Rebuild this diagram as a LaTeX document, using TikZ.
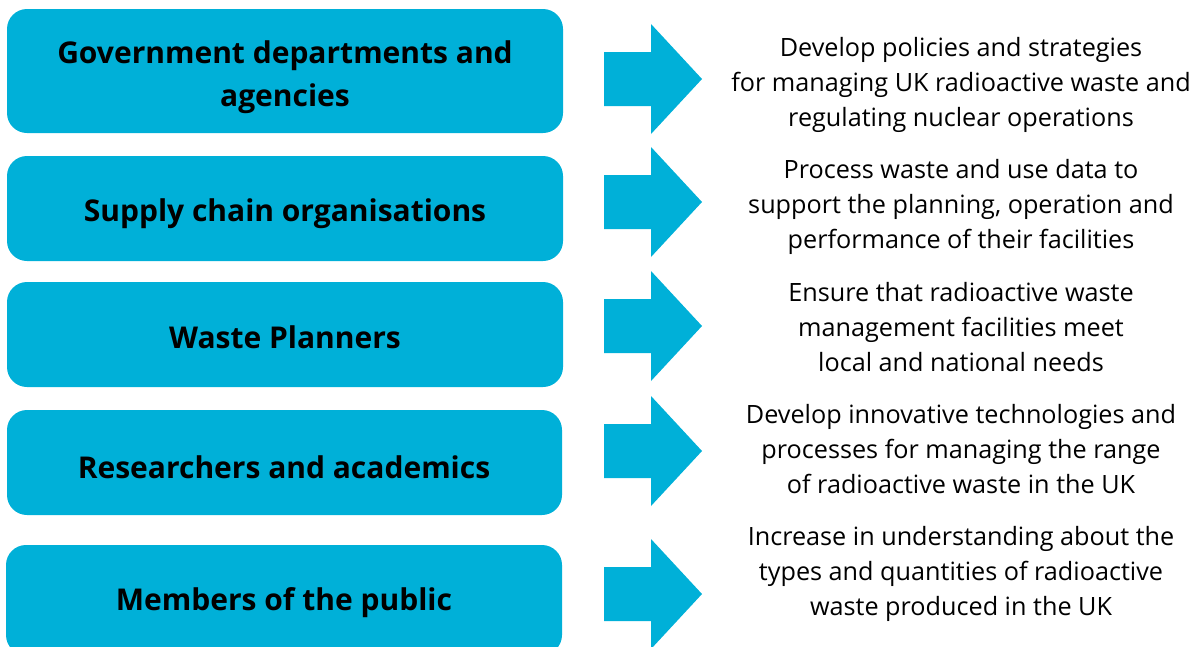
\documentclass[tikz,border=0pt]{standalone}
\usepackage{fontspec}
\setmainfont{Open Sans}
\definecolor{boxcyan}{HTML}{00B0D8}
\begin{document}
\begin{tikzpicture}[x=1pt,y=-1pt,
  groupbox/.style={fill=boxcyan, rounded corners=20pt, inner sep=0pt},
  grouplabel/.style={align=center, inner sep=0pt,
    font=\fontsize{30}{43}\selectfont\bfseries, text=black},
  roletext/.style={align=center, inner sep=0pt, font=\fontsize{25.2}{35}\selectfont, text=black},
  bigarrow/.style={fill=boxcyan}]
\useasboundingbox (0,0) rectangle (1198,646);
\clip (0,0) rectangle (1198,646);
\node[groupbox, minimum width=556pt, minimum height=124pt] (g1) at (285,71) {};
\node[groupbox, minimum width=556pt, minimum height=105pt] (g2) at (285,208.5) {};
\node[groupbox, minimum width=556pt, minimum height=105pt] (g3) at (285,334.5) {};
\node[groupbox, minimum width=555pt, minimum height=105pt] (g4) at (284.5,462.5) {};
\node[groupbox, minimum width=556pt, minimum height=110pt] (g5) at (284,600) {};
\node[grouplabel] (l1) at (285,77.5) {Government departments and\\agencies};
\node[grouplabel] (l2) at (285,213.5) {Supply chain organisations};
\node[grouplabel] (l3) at (285,337) {Waste Planners};
\node[grouplabel] (l4) at (284,467.5) {Researchers and academics};
\node[grouplabel] (l5) at (284,602.5) {Members of the public};
\foreach \yy in {79,202,326,451,594}{
  \fill[bigarrow] (604,\yy-27) -- (651,\yy-27) -- (651,\yy-55) -- (702,\yy) -- (651,\yy+55) -- (651,\yy+27) -- (604,\yy+27) -- cycle;
}
\node[roletext] (t1) at (961,84.5) {Develop policies and strategies\\for managing UK radioactive waste and\\regulating nuclear operations};
\node[roletext] (t2) at (961,206.5) {Process waste and use data to\\support the planning, operation and\\performance of their facilities};
\node[roletext] (t3) at (961,327) {Ensure that radioactive waste\\management facilities meet\\local and national needs};
\node[roletext] (t4) at (961,449) {Develop innovative technologies and\\processes for managing the range\\of radioactive waste in the UK};
\node[roletext] (t5) at (961,574) {Increase in understanding about the\\types and quantities of radioactive\\waste produced in the UK};
\end{tikzpicture}
\end{document}
